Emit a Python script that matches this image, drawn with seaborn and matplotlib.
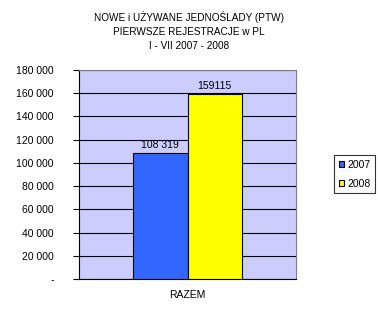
import matplotlib
matplotlib.use("Agg")
import matplotlib.pyplot as plt
import seaborn as sns
import pandas as pd

categories = ["RAZEM"]
years = ["2007", "2008"]
values_2007 = [108319]
values_2008 = [159115]
bar_labels = ["108 319", "159115"]
yticks = [0, 20000, 40000, 60000, 80000, 100000, 120000, 140000, 160000, 180000]
ytick_labels = ["-", "20 000", "40 000", "60 000", "80 000", "100 000",
                "120 000", "140 000", "160 000", "180 000"]
title = "NOWE i UŻYWANE JEDNOŚLADY (PTW)\nPIERWSZE REJESTRACJE w PL\nI - VII 2007 - 2008"

df = pd.DataFrame({
    "cat": categories * 2,
    "year": [years[0]] * len(values_2007) + [years[1]] * len(values_2008),
    "val": values_2007 + values_2008,
})

sns.set_style("white")
plt.rcParams["font.family"] = ["Liberation Sans", "DejaVu Sans"]
plt.rcParams["text.color"] = "black"
plt.rcParams["xtick.color"] = "black"
plt.rcParams["ytick.color"] = "black"

fig = plt.figure(figsize=(3.78, 3.11), dpi=100)
ax = fig.add_axes([79 / 378, 1 - 279 / 311, 217 / 378, 209 / 311])
ax.set_facecolor("#CCCCFF")

sns.barplot(data=df, x="cat", y="val", hue="year", palette=["#3366FF", "#FFFF00"],
            saturation=1, width=0.5, edgecolor="black", linewidth=0.8, ax=ax,
            legend=True, zorder=3)

ax.set_ylim(0, 180000)
ax.set_xlim(-0.5, 0.5)
ax.set_yticks(yticks)
ax.set_yticklabels(ytick_labels, fontsize=7.5)
ax.yaxis.grid(True, color="black", linewidth=0.8, zorder=0)
ax.set_axisbelow(True)
ax.tick_params(axis="y", direction="out", length=4, width=0.8, color="black", pad=14, left=True)
ax.tick_params(axis="x", length=0, labelsize=7.5, pad=8)
ax.set_xlabel("")
ax.set_ylabel("")

for s in ["left", "bottom"]:
    ax.spines[s].set_color("black")
    ax.spines[s].set_linewidth(0.8)
for s in ["top", "right"]:
    ax.spines[s].set_color("#808080")
    ax.spines[s].set_linewidth(0.8)

for cont, lab in zip(ax.containers, bar_labels):
    ax.bar_label(cont, labels=[lab], fontsize=7.5, padding=2)

fig.text(0.5, 1 - 31 / 311, title, ha="center", va="center", fontsize=7.2, linespacing=1.45)

h, l = ax.get_legend_handles_labels()
ax.legend(h, l, loc="upper left", bbox_to_anchor=(334 / 378, 1 - 155 / 311),
          bbox_transform=fig.transFigure, fontsize=7.5, frameon=True, fancybox=False,
          edgecolor="black", handlelength=0.5, handleheight=0.5, handletextpad=0.35,
          borderpad=0.45, labelspacing=0.85, borderaxespad=0)
leg = ax.get_legend()
leg.get_frame().set_linewidth(0.8)

fig.savefig("out.png", dpi=100, facecolor="white")
